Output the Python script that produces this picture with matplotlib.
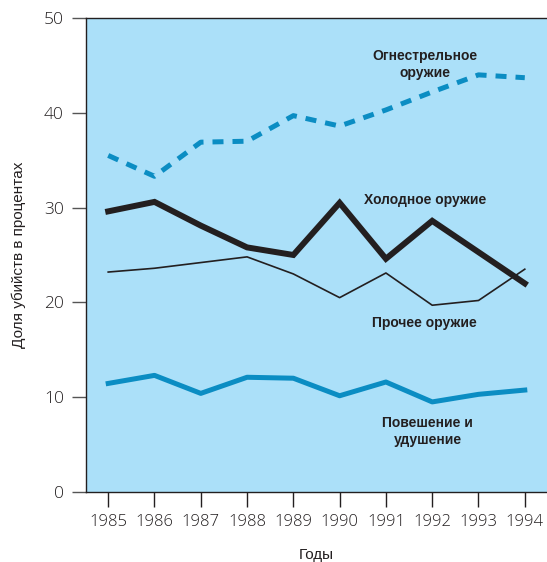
import matplotlib
matplotlib.use("Agg")
import matplotlib.pyplot as plt

years = [1985, 1986, 1987, 1988, 1989, 1990, 1991, 1992, 1993, 1994]
firearms = [35.5, 33.3, 36.9, 37.0, 39.7, 38.6, 40.3, 42.2, 44.0, 43.7]
knives = [29.6, 30.6, 28.1, 25.8, 25.0, 30.5, 24.6, 28.6, 25.3, 22.0]
other = [23.2, 23.6, 24.2, 24.8, 23.0, 20.5, 23.1, 19.7, 20.2, 23.5]
hanging = [11.45, 12.3, 10.4, 12.1, 12.0, 10.15, 11.6, 9.5, 10.3, 10.75]

BG = '#abe0f9'
BLUE = '#0b8dc3'
DARK = '#231f20'
label_font = ['Liberation Sans Narrow', 'Liberation Sans', 'DejaVu Sans']

fig = plt.figure(figsize=(5.47, 5.62), dpi=100)
ax = fig.add_axes([0.1572, 0.1246, 0.8428, 0.8434])
ax.set_facecolor(BG)

ax.plot(years, firearms, color=BLUE, lw=3.6, dashes=(2.2, 1.8),
        dash_capstyle='butt', solid_joinstyle='miter')
ax.plot(years, knives, color=DARK, lw=4.3, solid_joinstyle='miter')
ax.plot(years, other, color=DARK, lw=1.2)
ax.plot(years, hanging, color=BLUE, lw=3.6)

# series labels placed inside the plot
ax.text(1991.84, 45.1, 'Огнестрельное\nоружие', ha='center', va='center',
        fontsize=10, fontweight='bold', family=label_font, color=DARK, linespacing=1.3)
ax.text(1991.84, 30.8, 'Холодное оружие', ha='center', va='center',
        fontsize=10, fontweight='bold', family=label_font, color=DARK)
ax.text(1991.84, 17.8, 'Прочее оружие', ha='center', va='center',
        fontsize=10, fontweight='bold', family=label_font, color=DARK)
ax.text(1991.9, 6.35, 'Повешение и\nудушение', ha='center', va='center',
        fontsize=10, fontweight='bold', family=label_font, color=DARK, linespacing=1.3)

ax.set_xlim(1984.52, 1994.48)
ax.set_ylim(0, 50)
ax.set_xticks(years)
ax.set_yticks([0, 10, 20, 30, 40, 50])

for side in ['left', 'bottom', 'top']:
    ax.spines[side].set_color(DARK)
    ax.spines[side].set_linewidth(1.0)
ax.spines['right'].set_visible(False)

ax.tick_params(axis='y', direction='out', length=10, width=1.0, color='#555555',
               labelsize=12.5, pad=6, labelcolor=DARK)
ax.tick_params(axis='x', direction='out', length=11, width=1.0, color=DARK,
               labelsize=12, pad=5, labelcolor=DARK)
for lab in ax.get_xticklabels() + ax.get_yticklabels():
    lab.set_family(['Open Sans', 'DejaVu Sans'])
    lab.set_fontweight('light')

ax.set_xlabel('Годы', fontsize=11, family=label_font, color=DARK, labelpad=13)
ax.set_ylabel('Доля убийств в процентах', fontsize=11, family=label_font,
              color=DARK, labelpad=13)

fig.savefig('out.png', dpi=100, facecolor='white')
